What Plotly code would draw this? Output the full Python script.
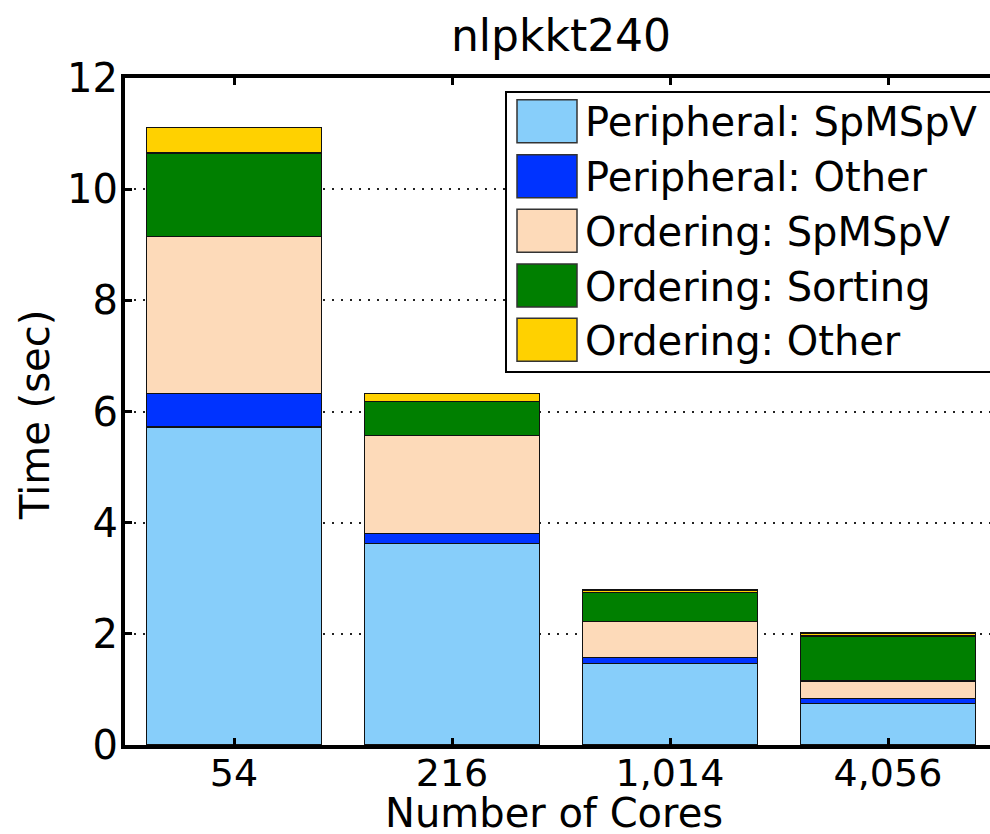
import plotly.graph_objects as go

# Core counts on the x axis and the time spent (seconds) per phase
cores = ["54", "216", "1,014", "4,056"]
series_names = [
    "Peripheral: SpMSpV",
    "Peripheral: Other",
    "Ordering: SpMSpV",
    "Ordering: Sorting",
    "Ordering: Other",
]
peripheral_spmspv = [5.72, 3.62, 1.46, 0.75]
peripheral_other = [0.61, 0.18, 0.12, 0.08]
ordering_spmspv = [2.82, 1.77, 0.64, 0.32]
ordering_sorting = [1.50, 0.61, 0.53, 0.81]
ordering_other = [0.46, 0.15, 0.04, 0.055]
y_ticks = [0, 2, 4, 6, 8, 10, 12]

series_values = [peripheral_spmspv, peripheral_other, ordering_spmspv,
                 ordering_sorting, ordering_other]
colors = ["#87CEFA", "#0033FF", "#FDDAB9", "#007F00", "#FFD100"]

W, H = 990, 834
ML, MR, MT, MB = 125, 0, 78, 89
plot_w = W - ML - MR
plot_h = H - MT - MB
FONT = "DejaVu Sans"

# Category spacing in pixels; the visible x range is cut at the right page edge
slot_px = 218.0
x_pos = list(range(1, len(cores) + 1))
x_range = [0.5, 0.5 + plot_w / slot_px]


def px_x(p):
    return (p - ML) / plot_w


def px_y(p):
    return (H - MB - p) / plot_h


fig = go.Figure()
for name, vals, col in zip(series_names, series_values, colors):
    fig.add_trace(go.Bar(
        x=x_pos, y=vals, name=name, width=0.8,
        marker=dict(color=col, line=dict(color="#111111", width=1.2)),
        showlegend=False,
    ))

# Boxed legend with large colour swatches
shapes = [dict(type="rect", xref="paper", yref="paper",
               x0=px_x(506), x1=px_x(1000), y0=px_y(372), y1=px_y(92),
               fillcolor="white", line=dict(color="black", width=2),
               layer="above")]
annotations = []
row_centers = [121.3, 176.3, 230.8, 285.5, 339.7]
for name, col, cy in zip(series_names, colors, row_centers):
    shapes.append(dict(type="rect", xref="paper", yref="paper",
                       x0=px_x(517), x1=px_x(577),
                       y0=px_y(cy + 21.5), y1=px_y(cy - 21.5),
                       fillcolor=col, line=dict(color="#333333", width=1.5),
                       layer="above"))
    annotations.append(dict(text=name, xref="paper", yref="paper",
                            x=px_x(583), y=px_y(cy + 1), xanchor="left",
                            yanchor="middle", showarrow=False,
                            font=dict(family=FONT, size=40, color="black")))

# Axis titles
annotations.append(dict(text="Number of Cores", xref="paper", yref="paper",
                        x=px_x(554), y=px_y(813), xanchor="center",
                        yanchor="middle", showarrow=False,
                        font=dict(family=FONT, size=40, color="black")))
annotations.append(dict(text="Time (sec)", xref="paper", yref="paper",
                        x=px_x(35), y=px_y(415), xanchor="center",
                        yanchor="middle", showarrow=False, textangle=-90,
                        font=dict(family=FONT, size=40, color="black")))

fig.update_layout(
    width=W, height=H,
    margin=dict(l=ML, r=MR, t=MT, b=MB, pad=0),
    barmode="stack",
    plot_bgcolor="white", paper_bgcolor="white",
    font=dict(family=FONT, size=40, color="black"),
    title=dict(text="nlpkkt240", x=561 / W, xref="container", xanchor="center",
               y=1 - 36 / H, yref="container", yanchor="middle",
               font=dict(family=FONT, size=44, color="black")),
    shapes=shapes,
    annotations=annotations,
    xaxis=dict(
        range=x_range, tickvals=x_pos, ticktext=cores,
        showline=True, linecolor="black", linewidth=4, mirror="ticks",
        ticks="inside", ticklen=7, tickwidth=3, tickcolor="black",
        ticklabelstandoff=-9,
        showgrid=False, zeroline=False,
        tickfont=dict(family=FONT, size=38, color="black"),
    ),
    yaxis=dict(
        range=[0, 12], tickvals=y_ticks,
        showline=True, linecolor="black", linewidth=4, mirror=False,
        ticks="inside", ticklen=7, tickwidth=3, tickcolor="black",
        ticklabelstandoff=-5,
        showgrid=True, gridcolor="#222222", gridwidth=2, griddash="2px,7px",
        zeroline=False,
        tickfont=dict(family=FONT, size=40, color="black"),
    ),
)

fig.write_html("out.html")
